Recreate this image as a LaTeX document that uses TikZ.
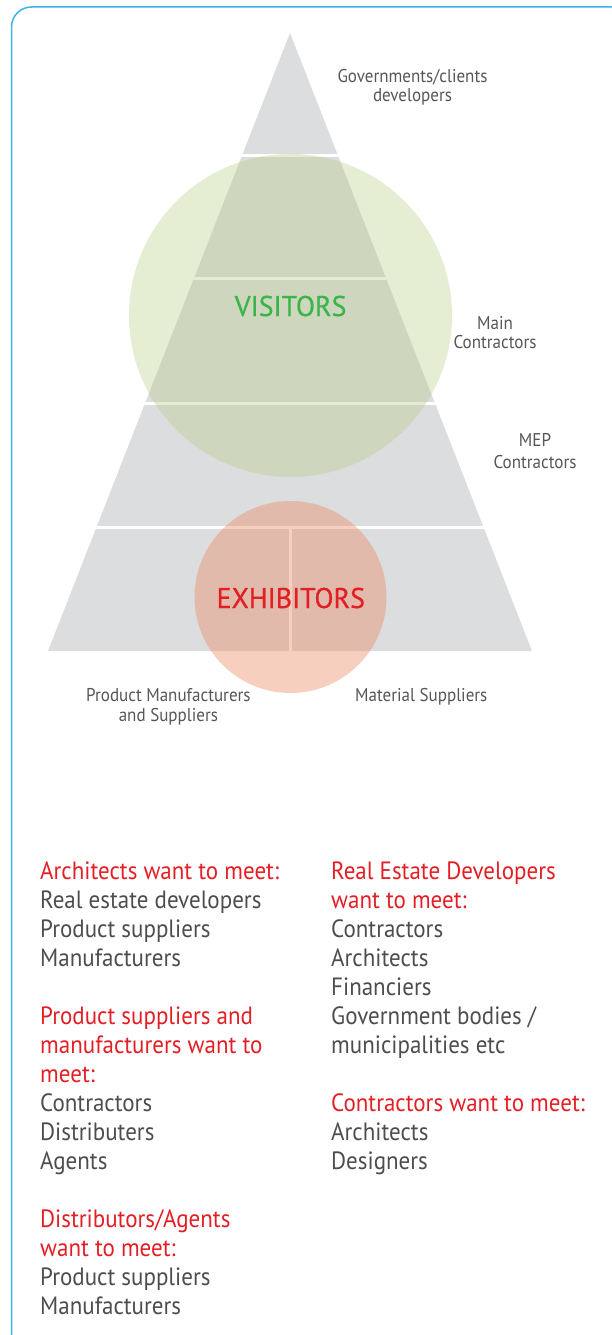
\documentclass[tikz,border=0pt]{standalone}
\usepackage{fontspec}
\setmainfont{PT Sans}[FakeStretch=0.92]
\newfontfamily\bigfont{PT Sans}[FakeStretch=0.98,FakeBold=0.6]
\definecolor{framec}{RGB}{60,180,229}
\definecolor{pyrgray}{RGB}{220,221,223}
\definecolor{visgreen}{RGB}{180,206,130}
\definecolor{exsalmon}{RGB}{235,135,95}
\definecolor{txtgreen}{RGB}{57,181,74}
\definecolor{txtred}{RGB}{227,30,36}
\definecolor{lblgray}{RGB}{85,86,88}
\definecolor{bodygray}{RGB}{77,77,79}
\tikzset{
  lbl/.style={anchor=base, inner sep=0pt, text=lblgray, font=\fontsize{18.5}{20}\selectfont},
  big/.style={anchor=base, inner sep=0pt, font=\bigfont\fontsize{28.5}{30}\selectfont},
  hd/.style={anchor=base west, inner sep=0pt, text=txtred, font=\fontsize{25}{29}\selectfont},
  it/.style={anchor=base west, inner sep=0pt, text=bodygray, font=\fontsize{25}{29}\selectfont},
}
\begin{document}
\begin{tikzpicture}[x=1pt,y=-1pt]
\useasboundingbox (0,0) rectangle (612,1335);
\begin{scope}
  \clip (0,0) rectangle (612,1335);
  \draw[framec, line width=1.5pt, rounded corners=20pt] (11.5,7) rectangle (632,1356);
\end{scope}
% pyramid
\coordinate (apex) at (290,33);
\coordinate (bl) at (48,651);
\coordinate (br) at (532,651);
\begin{scope}
  \clip (apex) -- (br) -- (bl) -- cycle;
  \fill[pyrgray] (0,0) rectangle (612,700);
  \foreach \yy in {155,278,403,527}
    \draw[white, line width=3pt] (0,\yy) -- (612,\yy);
  \draw[white, line width=3pt] (290,527) -- (290,660);
\end{scope}
% circles
\node[circle, fill=visgreen, fill opacity=0.35, minimum size=323pt, inner sep=0pt] (viscirc) at (290.5,315.5) {};
\node[circle, fill=exsalmon, fill opacity=0.4, minimum size=192pt, inner sep=0pt] (excirc) at (290.5,597) {};
% big labels
\node[big, text=txtgreen] (vis) at (290.6,316) {VISITORS};
\node[big, text=txtred] (exh) at (290.8,608) {EXHIBITORS};
% pyramid labels
\node[lbl] (gov1) at (412.5,83) {Governments/clients};
\node[lbl] (gov2) at (412.5,102) {developers};
\node[lbl] (main1) at (495,329) {Main};
\node[lbl] (main2) at (495,348) {Contractors};
\node[lbl] (mep1) at (535,446.7) {MEP};
\node[lbl] (mep2) at (535,468) {Contractors};
\node[lbl] (pm1) at (168.4,701.7) {Product Manufacturers};
\node[lbl] (pm2) at (168.4,721.7) {and Suppliers};
\node[lbl] (ms) at (421.3,701.7) {Material Suppliers};
% left column
\foreach \t/\s/\k in {
  {Architects want to meet:}/hd/0,
  {Real estate developers}/it/1,
  {Product suppliers}/it/2,
  {Manufacturers}/it/3,
  {Product suppliers and}/hd/5,
  {manufacturers want to}/hd/6,
  {meet:}/hd/7,
  {Contractors}/it/8,
  {Distributers}/it/9,
  {Agents}/it/10,
  {Distributors/Agents}/hd/12,
  {want to meet:}/hd/13,
  {Product suppliers}/it/14,
  {Manufacturers}/it/15}
  \node[\s] (L\k) at (40,879+29*\k) {\t};
% right column
\foreach \t/\s/\k in {
  {Real Estate Developers}/hd/0,
  {want to meet:}/hd/1,
  {Contractors}/it/2,
  {Architects}/it/3,
  {Financiers}/it/4,
  {Government bodies /}/it/5,
  {municipalities etc}/it/6,
  {Contractors want to meet:}/hd/8,
  {Architects}/it/9,
  {Designers}/it/10}
  \node[\s] (R\k) at (331,879+29*\k) {\t};
\end{tikzpicture}
\end{document}
